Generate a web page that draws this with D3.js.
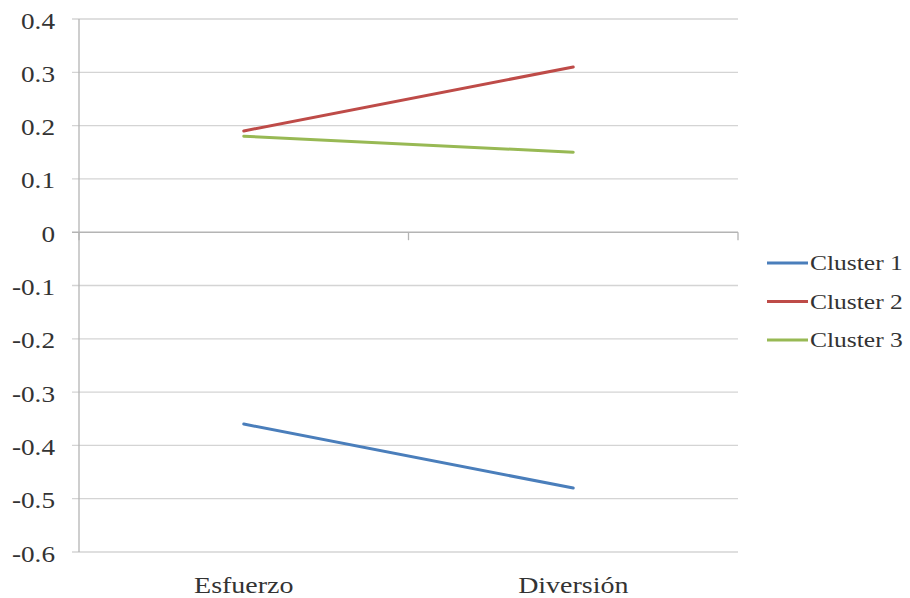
<!DOCTYPE html>
<html>
<head>
<meta charset="utf-8">
<script src="https://cdn.jsdelivr.net/npm/d3@7"></script>
<style>
  html, body { margin: 0; padding: 0; background: #fff; }
  svg { display: block; }
</style>
</head>
<body>
<svg id="chart" width="910" height="598"></svg>
<script>
// Categories, series and tick values
const categories = ["Esfuerzo", "Diversión"];
const seriesNames = ["Cluster 1", "Cluster 2", "Cluster 3"];
const cluster1 = [-0.36, -0.48];
const cluster2 = [0.19, 0.31];
const cluster3 = [0.18, 0.15];
const yTicks = [0.4, 0.3, 0.2, 0.1, 0, -0.1, -0.2, -0.3, -0.4, -0.5, -0.6];
const colors = ["#4a7ebb", "#be4b48", "#98b954"];

const series = seriesNames.map((name, i) => ({
  name,
  values: [cluster1, cluster2, cluster3][i],
  color: colors[i]
}));

const FONT = "'Liberation Serif', serif";
const svg = d3.select("#chart");
const margin = { left: 79, right: 172, top: 19, bottom: 46 };
const W = 910, H = 598;

const x = d3.scaleBand().domain(categories).range([margin.left, W - margin.right]);
const y = d3.scaleLinear().domain([-0.6, 0.4]).range([H - margin.bottom, margin.top]);

function label(sel, size) {
  return sel.style("font-family", FONT).attr("font-size", size).attr("fill", "#333");
}

// Horizontal gridlines (extend left as tick marks)
svg.append("g")
  .selectAll("line")
  .data(yTicks.filter(d => d !== 0))
  .join("line")
  .attr("x1", margin.left - 7)
  .attr("x2", W - margin.right)
  .attr("y1", d => y(d))
  .attr("y2", d => y(d))
  .attr("stroke", "#d4d4d4")
  .attr("stroke-width", 1.3);

// Vertical value axis
svg.append("line")
  .attr("x1", margin.left).attr("x2", margin.left)
  .attr("y1", y(0.4)).attr("y2", y(-0.6))
  .attr("stroke", "#b4b4b4").attr("stroke-width", 1.3);

// Category axis at zero
const x0 = y(0);
svg.append("line")
  .attr("x1", margin.left - 7).attr("x2", W - margin.right)
  .attr("y1", x0).attr("y2", x0)
  .attr("stroke", "#b4b4b4").attr("stroke-width", 1.5);
const boundaries = categories.map(c => x(c)).concat([x(categories[1]) + x.bandwidth()]);
svg.append("g")
  .selectAll("line")
  .data(boundaries)
  .join("line")
  .attr("x1", d => d).attr("x2", d => d)
  .attr("y1", x0).attr("y2", x0 + 8)
  .attr("stroke", "#b4b4b4").attr("stroke-width", 1.3);

// Value tick labels
svg.append("g")
  .selectAll("text")
  .data(yTicks)
  .join("text")
  .attr("transform", d => `translate(55,${y(d) + 9.5}) scale(1.21,1)`)
  .attr("text-anchor", "end")
  .call(label, 22.5)
  .text(d => d3.format("")(d === 0 ? 0 : +d.toFixed(1)).replace("−", "-"));

// Category labels
svg.append("g")
  .selectAll("text")
  .data(categories)
  .join("text")
  .attr("transform", d => `translate(${x(d) + x.bandwidth() / 2},592.5) scale(1.19,1)`)
  .attr("text-anchor", "middle")
  .call(label, 23.5)
  .text(d => d);

// Series lines
const line = d3.line()
  .x((d, i) => x(categories[i]) + x.bandwidth() / 2)
  .y(d => y(d));

svg.append("g")
  .selectAll("path")
  .data(series)
  .join("path")
  .attr("d", d => line(d.values))
  .attr("fill", "none")
  .attr("stroke", d => d.color)
  .attr("stroke-width", 3)
  .attr("stroke-linecap", "round");

// Legend
const legend = svg.append("g")
  .selectAll("g")
  .data(series)
  .join("g")
  .attr("transform", (d, i) => `translate(767,${263 + i * 38.5})`);
legend.append("line")
  .attr("x1", 0).attr("x2", 41)
  .attr("stroke", d => d.color)
  .attr("stroke-width", 3);
legend.append("text")
  .attr("transform", "translate(43,7) scale(1.16,1)")
  .call(label, 22)
  .text(d => d.name);
</script>
</body>
</html>
